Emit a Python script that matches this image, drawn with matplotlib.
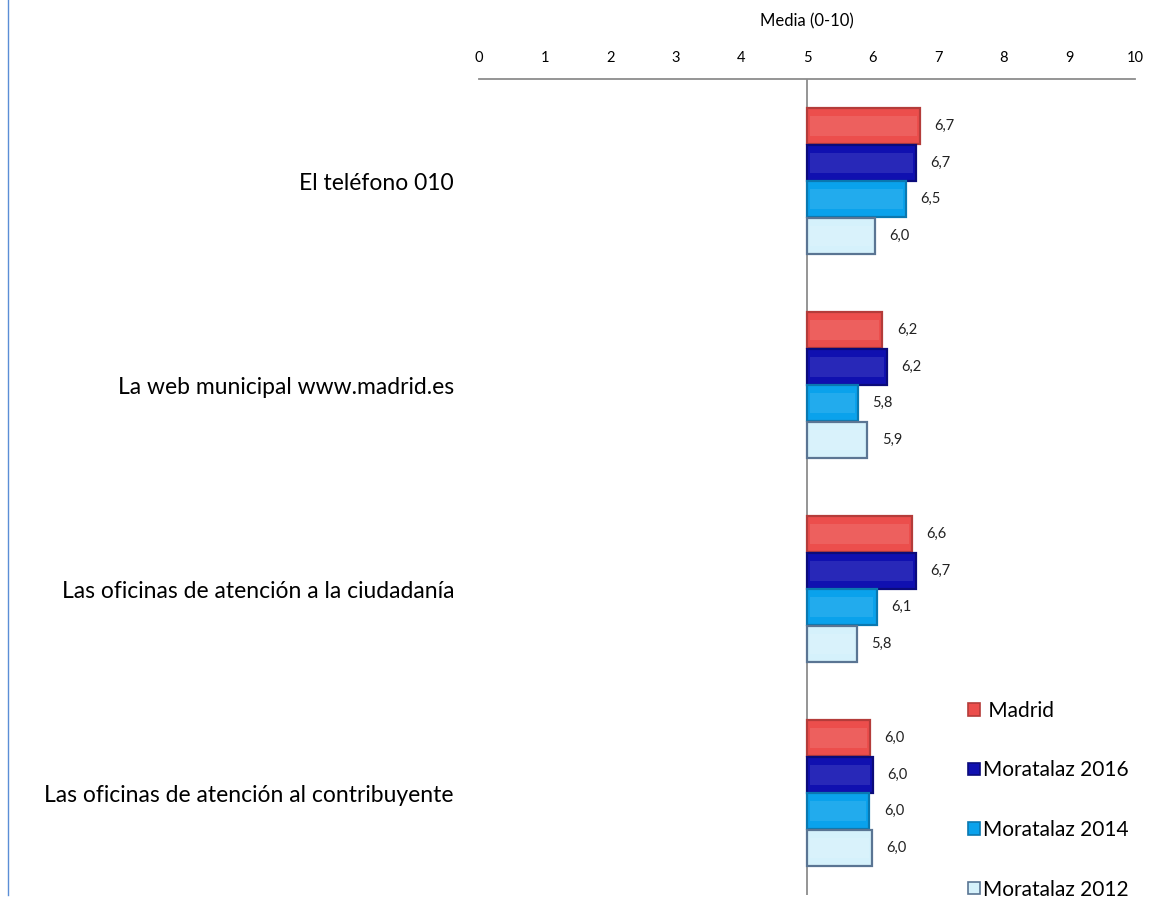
import matplotlib.pyplot as plt
from matplotlib.patches import Patch
from matplotlib.lines import Line2D
import numpy as np

plt.rcParams['font.family'] = ['Lato', 'DejaVu Sans']

categories = ['El teléfono 010',
              'La web municipal www.madrid.es',
              'Las oficinas de atención a la ciudadanía',
              'Las oficinas de atención al contribuyente']
series = ['Madrid', 'Moratalaz 2016', 'Moratalaz 2014', 'Moratalaz 2012']
madrid = [6.72, 6.15, 6.60, 5.96]
mor2016 = [6.66, 6.22, 6.66, 6.01]
mor2014 = [6.51, 5.78, 6.06, 5.95]
mor2012 = [6.04, 5.92, 5.76, 5.99]
values = [madrid, mor2016, mor2014, mor2012]

faces = ['#EC4E4C', '#1010B0', '#0AA2EC', '#D5F1FB']
edges = ['#B43C3A', '#0B0B7A', '#0A78B0', '#5A7593']

fig = plt.figure(figsize=(11.52, 9.07), dpi=100)
ax = fig.add_axes([479 / 1152, 1 - 895 / 907, 656 / 1152, (895 - 79) / 907])

base = 5
h = 0.18
y = np.arange(len(categories)) + 0.5
for i, (vals, fc, ec) in enumerate(zip(values, faces, edges)):
    yy = y + (i - 1.5) * h
    vals = np.array(vals)
    ax.barh(yy, vals - base, left=base, height=h * 0.98, color=fc,
            edgecolor=ec, linewidth=1.6, zorder=3)
    # inner highlight for a bevelled look
    ax.barh(yy, (vals - base) - 0.1, left=base + 0.05, height=h * 0.55,
            color='white', alpha=0.1, linewidth=0, zorder=4)
    for v, yv in zip(vals, yy):
        ax.text(v + 0.22, yv, f'{v:.1f}'.replace('.', ','), va='center',
                ha='left', fontsize=10.5, color='#222222')

ax.set_xlim(0, 10)
ax.set_ylim(len(categories), 0)
ax.axvline(base, color='#8c8c8c', linewidth=1.3, zorder=2)

ax.xaxis.tick_top()
ax.xaxis.set_label_position('top')
ax.set_xticks(range(11))
ax.tick_params(axis='x', length=0, pad=10, labelsize=10.5)
ax.set_xlabel('Media (0-10)', fontsize=12, labelpad=18)

ax.set_yticks(y)
ax.set_yticklabels(categories, fontsize=16.5)
ax.tick_params(axis='y', length=0, pad=18)

for s in ['bottom', 'left', 'right']:
    ax.spines[s].set_visible(False)
ax.spines['top'].set_color('#8c8c8c')
ax.spines['top'].set_linewidth(1.3)

handles = [Patch(facecolor=fc, edgecolor=ec, linewidth=1.2) for fc, ec in zip(faces, edges)]
leg = ax.legend(handles, [' Madrid'] + series[1:], loc='lower left',
                bbox_to_anchor=(958 / 1152, 1 - 910 / 907), bbox_transform=fig.transFigure,
                frameon=False, fontsize=15, handlelength=0.55, handleheight=0.55,
                handletextpad=0.15, labelspacing=1.9, borderpad=0)

fig.add_artist(Line2D([8 / 1152, 8 / 1152], [1, 1 - 895 / 907],
                      transform=fig.transFigure, color='#5B8ED6', linewidth=1))

fig.savefig('out.png', dpi=100)
